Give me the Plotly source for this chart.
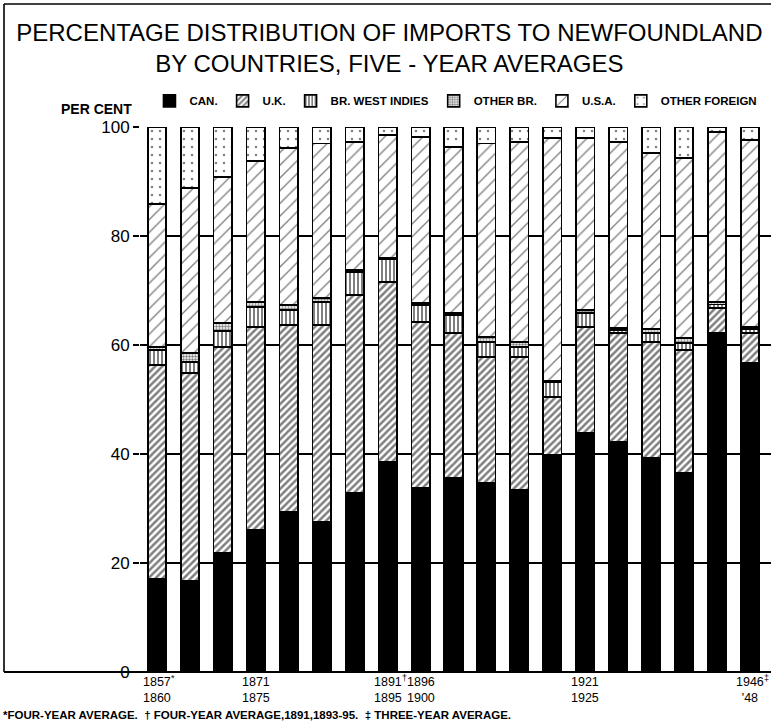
import plotly.graph_objects as go

# Five-year periods (x categories)
periods = ["1857-60", "1861-65", "1866-70", "1871-75", "1876-80", "1881-85",
           "1886-90", "1891-95", "1896-1900", "1901-05", "1906-10", "1911-15",
           "1916-20", "1921-25", "1926-30", "1931-35", "1936-40", "1941-45",
           "1946-48"]

# Percentage shares of imports by country of origin
canada = [17.1, 16.7, 21.8, 26.1, 29.4, 27.5, 32.8, 38.5, 33.8, 35.6,
          34.7, 33.4, 39.8, 43.9, 42.2, 39.3, 36.5, 62.2, 56.7]
uk = [39.2, 38.2, 37.8, 37.2, 34.3, 36.2, 36.4, 33.1, 30.4, 26.6,
      23.1, 24.4, 10.7, 19.4, 20.0, 21.3, 22.6, 4.6, 5.5]
br_west_indies = [2.8, 2.0, 3.0, 3.7, 2.7, 4.2, 4.2, 4.2, 3.1, 3.3,
                  2.8, 1.8, 2.7, 2.6, 0.6, 1.6, 1.3, 0.6, 0.7]
other_british = [0.5, 1.6, 1.4, 0.9, 0.9, 0.7, 0.4, 0.2, 0.4, 0.4,
                 0.9, 1.0, 0.3, 0.5, 0.3, 0.7, 0.9, 0.5, 0.4]
usa = [26.3, 30.3, 26.8, 25.9, 28.8, 28.4, 23.4, 22.5, 30.5, 30.4,
       35.5, 36.6, 44.5, 31.6, 34.1, 32.3, 33.0, 31.2, 34.3]
other_foreign = [14.1, 11.2, 9.2, 6.2, 3.9, 3.0, 2.8, 1.5, 1.8, 3.7,
                 3.0, 2.8, 2.0, 2.0, 2.8, 4.8, 5.7, 0.9, 2.4]

# Labelled periods on the x axis and their footnote marks
tick_periods = ["1857-60", "1871-75", "1891-95", "1896-1900", "1921-25", "1946-48"]
tick_labels = ["1857<br>1860", "1871<br>1875", "1891<br>1895", "1896<br>1900",
               "1921<br>1925", "1946<br>'48"]
mark_periods = ["1857-60", "1891-95", "1946-48"]
mark_symbols = ["*", "†", "‡"]

y_ticks = [0, 20, 40, 60, 80, 100]

series = [
    ("CAN.", canada, dict(color="black")),
    ("U.K.", uk, dict(color="white", pattern=dict(shape="/", fgcolor="black", bgcolor="white",
                                                 size=5, solidity=0.5))),
    ("BR. WEST INDIES", br_west_indies, dict(color="white", pattern=dict(shape="|", fgcolor="black",
                                                                         bgcolor="white", size=4, solidity=0.5))),
    ("OTHER BR.", other_british, dict(color="white", pattern=dict(shape=".", fgcolor="black",
                                                                  bgcolor="white", size=3, solidity=0.5))),
    ("U.S.A.", usa, dict(color="white", pattern=dict(shape="/", fgcolor="black", bgcolor="white",
                                                     size=9, solidity=0.15))),
    ("OTHER FOREIGN", other_foreign, dict(color="white", pattern=dict(shape=".", fgcolor="black",
                                                                      bgcolor="white", size=8, solidity=0.08))),
]

fig = go.Figure()
for name, vals, marker in series:
    marker = dict(marker)
    marker["line"] = dict(color="black", width=1.6)
    fig.add_trace(go.Bar(x=periods, y=vals, name=name, marker=marker, width=0.56))

ink = "black"
font_family = "Liberation Sans, Arial, sans-serif"
fig.update_layout(
    width=771, height=724,
    margin=dict(l=140, r=0, t=127, b=52),
    paper_bgcolor="white", plot_bgcolor="white",
    barmode="stack",
    font=dict(family=font_family, color=ink),
    showlegend=True,
    legend=dict(orientation="h", x=0.015, xanchor="left", y=1.048, yanchor="middle",
                font=dict(size=11.5, family=font_family, weight="bold"),
                itemwidth=30, tracegroupgap=0, traceorder="normal",
                bgcolor="rgba(0,0,0,0)"),
    title=dict(text="PERCENTAGE DISTRIBUTION OF IMPORTS TO NEWFOUNDLAND<br>BY COUNTRIES, FIVE - YEAR AVERAGES",
               x=0.505, xanchor="center", y=0.944, yanchor="middle",
               font=dict(size=24, color=ink, family=font_family)),
    xaxis=dict(type="category", range=[-0.517, 18.64], showticklabels=False, ticks="",
               showgrid=False, showline=False, zeroline=False),
    yaxis=dict(range=[0, 100], tickvals=y_ticks, showgrid=True, gridcolor=ink, gridwidth=1.5,
               ticks="outside", ticklen=6, tickwidth=1.5, tickcolor=ink, showline=False,
               zeroline=False, tickfont=dict(size=17, color=ink)),
)

# Period labels under selected bars
for per, lab in zip(tick_periods, tick_labels):
    fig.add_annotation(text=lab, x=per, xref="x", y=-(690 - 672) / 545, yref="paper",
                       yanchor="middle", showarrow=False, borderpad=0,
                       font=dict(size=12.5, color=ink))
# Footnote marks beside the first year
for per, sym in zip(mark_periods, mark_symbols):
    fig.add_annotation(text=sym, x=per, xref="x", y=-(678 - 672) / 545, yref="paper",
                       xanchor="left", yanchor="middle", xshift=13, showarrow=False,
                       borderpad=0, font=dict(size=9, color=ink))

# Frame round the chart: top rule, left rule, and the baseline
frame_left = (4 - 140) / 631
frame_top = (672 - 4) / 545
fig.add_shape(type="line", xref="paper", yref="paper", x0=frame_left, x1=frame_left,
              y0=0, y1=frame_top, line=dict(color=ink, width=1.6))
fig.add_shape(type="line", xref="paper", yref="paper", x0=frame_left, x1=1,
              y0=frame_top, y1=frame_top, line=dict(color=ink, width=1.6))
fig.add_shape(type="line", xref="paper", yref="paper", x0=frame_left, x1=1,
              y0=0, y1=0, line=dict(color=ink, width=2))

fig.add_annotation(text="<b>PER CENT</b>", xref="paper", yref="paper", x=(133 - 140) / 631, y=1.033,
                   xanchor="right", yanchor="middle", showarrow=False, borderpad=0,
                   font=dict(size=14, color=ink))

fig.add_annotation(text="<b>*FOUR-YEAR AVERAGE.  † FOUR-YEAR AVERAGE,1891,1893-95.  ‡ THREE-YEAR AVERAGE.</b>",
                   xref="paper", yref="paper", x=(2 - 140) / 631, y=-(715 - 672) / 545,
                   xanchor="left", yanchor="middle", showarrow=False, borderpad=0,
                   font=dict(size=11.5, color=ink))

fig.write_html("out.html")
